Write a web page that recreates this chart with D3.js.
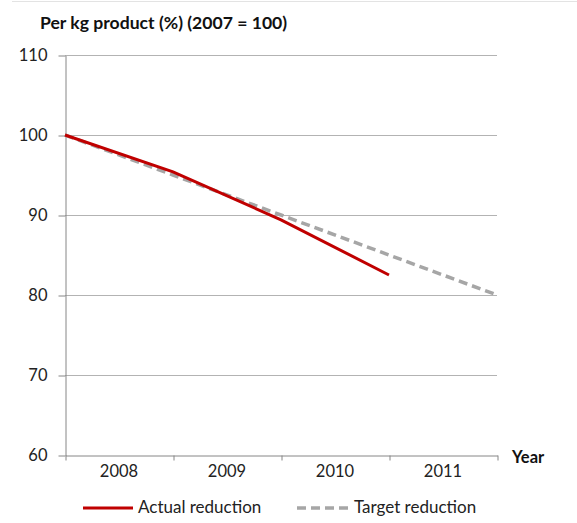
<!DOCTYPE html>
<html>
<head>
<meta charset="utf-8">
<script src="https://cdn.jsdelivr.net/npm/d3@7"></script>
<style>
  body { margin: 0; background: #fff; }
  text { font-family: Lato, "Open Sans", sans-serif; }
</style>
</head>
<body>
<svg width="577" height="523"></svg>
<script>
// data
var years = [2007, 2008, 2009, 2010, 2011];
var yearLabels = ["2008", "2009", "2010", "2011"];
var actual = [100, 95.4, 89.4, 82.5];
var target = [100, 95, 90, 85, 80];
var yTicks = [60, 70, 80, 90, 100, 110];

var svg = d3.select("svg");
var plotLeft = 65, plotRight = 497, plotTop = 55, plotBottom = 455;
var fs = 16.5;

var x = d3.scalePoint().domain(years).range([plotLeft, plotRight]);
var y = d3.scaleLinear().domain([60, 110]).range([plotBottom, plotTop]);

// faint border at top
svg.append("line")
    .attr("x1", 12).attr("x2", 577).attr("y1", 1.5).attr("y2", 1.5)
    .attr("stroke", "#e3e3e3");

// gridlines
svg.append("g").selectAll("line")
    .data(yTicks.slice(1))
    .join("line")
    .attr("x1", plotLeft).attr("x2", plotRight)
    .attr("y1", function(d) { return Math.round(y(d)) + 0.5; })
    .attr("y2", function(d) { return Math.round(y(d)) + 0.5; })
    .attr("stroke", "#b3b3b3");

// y axis
var yAxis = svg.append("g")
    .attr("transform", "translate(" + (plotLeft + 0.5) + ",0.5)")
    .call(d3.axisLeft(y).tickValues(yTicks).tickSize(7).tickSizeOuter(0).tickPadding(11));
yAxis.select(".domain").attr("stroke", "#868686");
yAxis.selectAll(".tick line").attr("stroke", "#868686");
yAxis.selectAll("text").attr("font-size", fs).attr("fill", "#222")
    .attr("font-family", "Lato, 'Open Sans', sans-serif");

// x axis (ticks between categories)
var xAxis = svg.append("g")
    .attr("transform", "translate(0.5," + (plotBottom + 0.5) + ")")
    .call(d3.axisBottom(x).tickSize(5).tickSizeOuter(0).tickFormat(""));
xAxis.select(".domain").attr("stroke", "#868686");
xAxis.selectAll(".tick line").attr("stroke", "#868686");

svg.append("g").selectAll("text")
    .data(yearLabels)
    .join("text")
    .attr("x", function(d, i) { return (x(years[i]) + x(years[i + 1])) / 2; })
    .attr("y", plotBottom + 22)
    .attr("text-anchor", "middle")
    .attr("font-size", fs)
    .attr("fill", "#222")
    .text(function(d) { return d; });

// lines
var line = d3.line()
    .x(function(d, i) { return x(years[i]); })
    .y(function(d) { return y(d); });

svg.append("path")
    .datum(target)
    .attr("d", line)
    .attr("fill", "none")
    .attr("stroke", "#a6a6a6")
    .attr("stroke-width", 3.5)
    .attr("stroke-dasharray", "9,5");

svg.append("path")
    .datum(actual)
    .attr("d", line)
    .attr("fill", "none")
    .attr("stroke", "#c00000")
    .attr("stroke-width", 3);

// titles
svg.append("text")
    .attr("x", 40).attr("y", 29)
    .attr("font-size", 17.6).attr("font-weight", "bold").attr("fill", "#111")
    .text("Per kg product (%) (2007 = 100)");

svg.append("text")
    .attr("x", 512).attr("y", 463)
    .attr("font-size", fs).attr("font-weight", "bold").attr("fill", "#111")
    .text("Year");

// legend
var legend = svg.append("g");
legend.append("line")
    .attr("x1", 83).attr("x2", 133).attr("y1", 508).attr("y2", 508)
    .attr("stroke", "#c00000").attr("stroke-width", 3);
legend.append("text")
    .attr("x", 138).attr("y", 513)
    .attr("font-size", 17).attr("fill", "#222")
    .text("Actual reduction");
legend.append("line")
    .attr("x1", 297).attr("x2", 350).attr("y1", 508).attr("y2", 508)
    .attr("stroke", "#a6a6a6").attr("stroke-width", 3.5)
    .attr("stroke-dasharray", "9,5");
legend.append("text")
    .attr("x", 354).attr("y", 513)
    .attr("font-size", 17).attr("fill", "#222")
    .text("Target reduction");
</script>
</body>
</html>
